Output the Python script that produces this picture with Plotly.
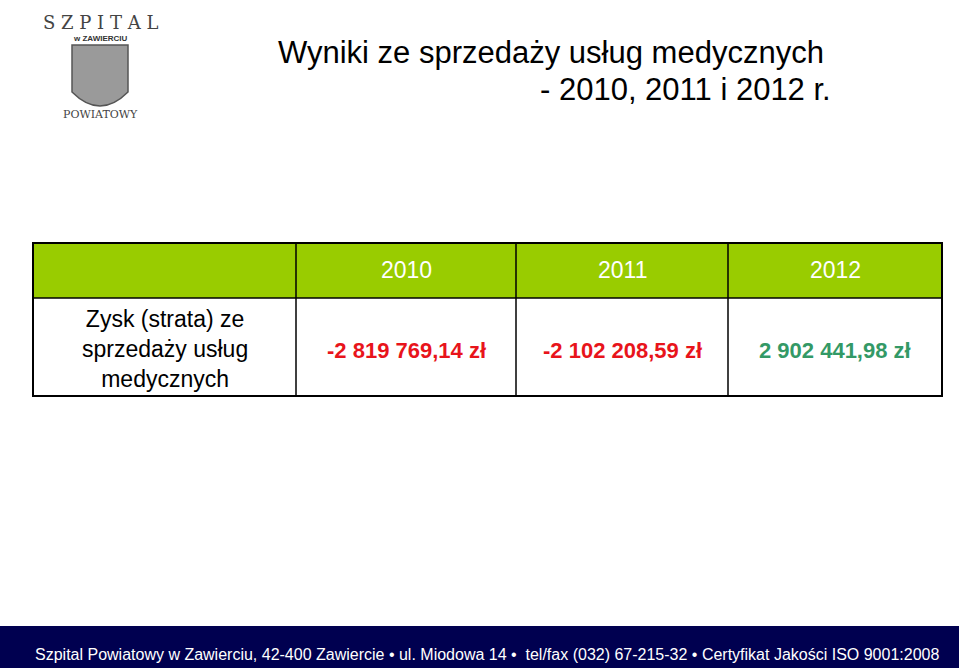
import plotly.graph_objects as go

years = ["2010", "2011", "2012"]
values = ["-2 819 769,14 zł", "-2 102 208,59 zł", "2 902 441,98 zł"]
value_colors = ["#E8141B", "#E8141B", "#339966"]
row_label = "Zysk (strata) ze<br>sprzedaży usług<br>medycznych"
footer = "Szpital Powiatowy w Zawierciu, 42-400 Zawiercie • ul. Miodowa 14 •  tel/fax (032) 67-215-32 • Certyfikat Jakości ISO 9001:2008"

W, H = 959, 668
def Y(y): return H - y

fig = go.Figure()
fig.add_trace(go.Scatter(x=[0, W], y=[0, H], mode="markers", marker=dict(opacity=0), hoverinfo="skip"))
F = "Liberation Sans, Arial, sans-serif"
shapes, ann = [], []

cols = [33, 296, 516, 728, 942]
top, mid, bot = 243, 298, 396
shapes.append(dict(type="rect", x0=cols[0], x1=cols[-1], y0=Y(mid), y1=Y(top), fillcolor="#99CC00", line=dict(width=0)))
shapes.append(dict(type="rect", x0=cols[0], x1=cols[-1], y0=Y(bot), y1=Y(top), line=dict(color="#000", width=2)))
shapes.append(dict(type="line", x0=cols[0], x1=cols[-1], y0=Y(mid), y1=Y(mid), line=dict(color="#000", width=1.5)))
for c in cols[1:-1]:
    shapes.append(dict(type="line", x0=c, x1=c, y0=Y(bot), y1=Y(top), line=dict(color="#000", width=1.5)))
for i, (yr, v, vc) in enumerate(zip(years, values, value_colors)):
    cx = (cols[i+1] + cols[i+2]) / 2
    ann.append(dict(x=cx, y=Y(270), text=yr, showarrow=False, font=dict(family=F, size=23, color="white")))
    ann.append(dict(x=cx, y=Y(350), text="<b>"+v+"</b>", showarrow=False, font=dict(family=F, size=22, color=vc)))
ann.append(dict(x=(cols[0]+cols[1])/2, y=Y(349), text=row_label, showarrow=False,
                font=dict(family=F, size=23, color="#000")))

ann.append(dict(x=551, y=Y(52), text="Wyniki ze sprzedaży usług medycznych", showarrow=False, font=dict(family=F, size=31, color="#000")))
ann.append(dict(x=833, y=Y(89), xanchor="right", text="- 2010, 2011 i 2012 r.", showarrow=False, font=dict(family=F, size=31, color="#000")))

shapes.append(dict(type="rect", x0=0, x1=W, y0=0, y1=Y(626), fillcolor="#000050", line=dict(width=0)))
ann.append(dict(x=487, y=Y(654), text=footer, showarrow=False, font=dict(family=F, size=16, color="white")))

# logo approximation
shapes.append(dict(type="path", path=f"M 72 {Y(45)} L 128 {Y(45)} L 128 {Y(92)} Q 100 {Y(120)} 72 {Y(92)} Z",
                   fillcolor="#9a9a9a", line=dict(color="#555", width=1.5)))
ann.append(dict(x=100, y=Y(22), text="S Z P I T A L", showarrow=False, font=dict(family="DejaVu Serif", size=18, color="#444")))
ann.append(dict(x=100, y=Y(38), text="<b>w ZAWIERCIU</b>", showarrow=False, font=dict(family=F, size=8, color="#333")))
ann.append(dict(x=100, y=Y(114), text="POWIATOWY", showarrow=False, font=dict(family="DejaVu Serif", size=11, color="#444")))

fig.update_layout(width=W, height=H, margin=dict(l=0, r=0, t=0, b=0), plot_bgcolor="white", paper_bgcolor="white",
                  xaxis=dict(range=[0, W], visible=False, fixedrange=True),
                  yaxis=dict(range=[0, H], visible=False, fixedrange=True),
                  shapes=shapes, annotations=ann, showlegend=False)
fig.write_html("out.html", config={"displayModeBar": False},
               post_script="document.body.style.margin='0';document.body.style.overflow='hidden';")
